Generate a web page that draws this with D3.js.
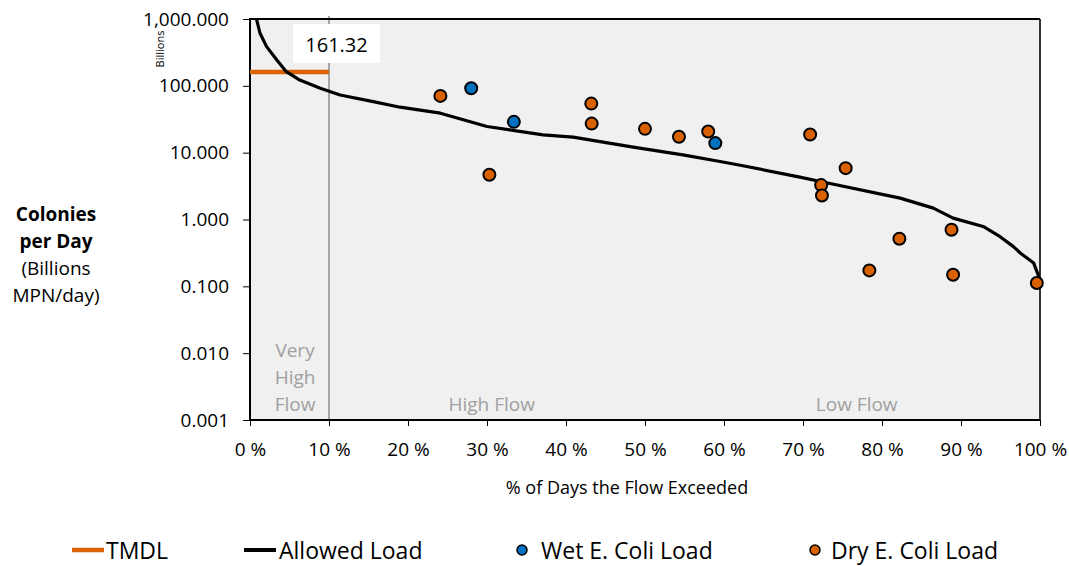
<!DOCTYPE html>
<html>
<head>
    <meta charset="UTF-8">
    <title>Load duration curve</title>
    <style>
      body { margin: 0; background: #fff; }
      svg { display: block; font-family: "Open Sans", sans-serif; }
    </style>
    <script src="https://cdn.jsdelivr.net/npm/d3@7/dist/d3.min.js"></script>
</head>
<body>
<svg id="chart" width="1069" height="566"></svg>
<script>
  // allowed load curve (% of days exceeded, billions MPN/day)
  var allowedPct  = [0.6, 0.85, 1.27, 2.1, 3.4, 4.6, 6.3, 8.9, 11.4, 15.6, 19.0, 24.1, 30.0, 37.1, 40.9, 48.5, 54.8, 59.5, 62.4, 69.6, 72.2, 82.3, 86.5, 89.0, 92.8, 94.9, 96.6, 97.5, 99.2, 100]
  var allowedLoad = [1300, 966, 611, 386, 244, 163, 122, 92, 73, 58, 47.9, 39, 24.6, 18.5, 17.1, 12.1, 9.29, 7.38, 6.36, 4.31, 3.71, 2.09, 1.48, 1.05, 0.787, 0.558, 0.396, 0.315, 0.223, 0.126]

  // sampled loads
  var wetPct  = [28.0, 33.4, 58.9]
  var wetLoad = [92.1, 28.9, 13.9]
  var dryPct  = [24.1, 30.3, 43.2, 43.25, 50.0, 54.3, 58.0, 70.9, 72.3, 72.4, 75.4, 78.4, 82.2, 88.8, 89.0, 99.6]
  var dryLoad = [70.7, 4.67, 54.2, 27.2, 22.7, 17.3, 20.7, 18.7, 3.27, 2.29, 5.87, 0.173, 0.515, 0.703, 0.149, 0.112]

  // TMDL for the very high flow zone
  var tmdlPct = [0, 10]
  var tmdlValue = 161.32

  var yTicks = [0.001, 0.01, 0.1, 1, 10, 100, 1000]
  var xTicks = [0, 10, 20, 30, 40, 50, 60, 70, 80, 90, 100]
  var zones = [
    { lines: ["Very", "High", "Flow"], pct: 5.7 },
    { lines: ["High Flow"], pct: 30.6 },
    { lines: ["Low Flow"], pct: 76.8 }
  ]
  var legendItems = ["TMDL", "Allowed Load", "Wet E. Coli Load", "Dry E. Coli Load"]

  var orange = "#d96100"
  var blue = "#0070c0"

  var plotL = 250, plotR = 1040, plotT = 19, plotB = 420
  var svg = d3.select("#chart")

  var x = d3.scaleLinear().domain([0, 100]).range([plotL, plotR])
  var y = d3.scaleLog().domain([0.001, 1000]).range([plotB, plotT])

  svg.append("rect").attr("x", plotL).attr("y", plotT)
    .attr("width", plotR - plotL).attr("height", plotB - plotT).attr("fill", "#f0f0f0")

  svg.append("defs").append("clipPath").attr("id", "plotClip")
    .append("rect").attr("x", plotL).attr("y", plotT).attr("width", plotR - plotL).attr("height", plotB - plotT)

  // 10 % boundary
  svg.append("line").attr("x1", x(10)).attr("x2", x(10)).attr("y1", plotT - 3).attr("y2", plotB)
    .attr("stroke", "#a6a6a6").attr("stroke-width", 2)

  // zone labels
  zones.forEach(function(z) {
    var n = z.lines.length
    z.lines.forEach(function(t, i) {
      svg.append("text").attr("x", x(z.pct)).attr("y", 404 - (n - 1 - i) * 27)
        .attr("text-anchor", "middle").attr("dominant-baseline", "central")
        .attr("fill", "#a0a0a0").style("font-size", "19px").text(t)
    })
  })

  // axes
  var yAxis = d3.axisLeft(y).tickValues(yTicks).tickSize(7).tickPadding(14)
    .tickFormat(d3.format(",.3f"))
  var gy = svg.append("g").attr("transform", "translate(" + plotL + ",0)").call(yAxis)
  gy.select(".domain").remove()
  gy.selectAll("text").style("font-size", "19px").style("font-family", "Open Sans").attr("fill", "#000")

  var xAxis = d3.axisBottom(x).tickValues(xTicks).tickSize(6).tickPadding(17)
    .tickFormat(function(d) { return d + " %" })
  var gx = svg.append("g").attr("transform", "translate(0," + plotB + ")").call(xAxis)
  gx.select(".domain").remove()
  gx.selectAll("text").style("font-size", "19px").style("font-family", "Open Sans").attr("fill", "#000")

  // frame
  svg.append("line").attr("x1", plotL).attr("x2", plotR).attr("y1", plotT).attr("y2", plotT).attr("stroke", "#000").attr("stroke-width", 2)
  svg.append("line").attr("x1", plotR).attr("x2", plotR).attr("y1", plotT).attr("y2", plotB).attr("stroke", "#333").attr("stroke-width", 2)
  svg.append("line").attr("x1", plotL).attr("x2", plotL).attr("y1", plotT - 1).attr("y2", plotB + 1).attr("stroke", "#000").attr("stroke-width", 2)
  svg.append("line").attr("x1", plotL).attr("x2", plotR).attr("y1", plotB).attr("y2", plotB).attr("stroke", "#000").attr("stroke-width", 2)

  // TMDL
  svg.append("line").attr("x1", x(tmdlPct[0])).attr("x2", x(tmdlPct[1]))
    .attr("y1", y(tmdlValue)).attr("y2", y(tmdlValue))
    .attr("stroke", orange).attr("stroke-width", 4.5)

  // allowed load
  var line = d3.line()
    .x(function(d, i) { return x(allowedPct[i]) })
    .y(function(d) { return y(d) })
  svg.append("path").attr("clip-path", "url(#plotClip)")
    .attr("d", line(allowedLoad)).attr("fill", "none")
    .attr("stroke", "#000").attr("stroke-width", 3.2).attr("stroke-linejoin", "round")

  // points
  function dots(pcts, loads, color) {
    svg.append("g").selectAll("circle").data(loads).enter().append("circle")
      .attr("cx", function(d, i) { return x(pcts[i]) })
      .attr("cy", function(d) { return y(d) })
      .attr("r", 6).attr("fill", color).attr("stroke", "#000").attr("stroke-width", 2)
  }
  dots(dryPct, dryLoad, orange)
  dots(wetPct, wetLoad, blue)

  // TMDL value label
  svg.append("rect").attr("x", 293).attr("y", 24).attr("width", 87).attr("height", 39).attr("fill", "#fff")
  svg.append("text").attr("x", 336.5).attr("y", 44).attr("text-anchor", "middle")
    .attr("dominant-baseline", "central").style("font-size", "20px").text(d3.format(".2f")(tmdlValue))

  // "Billions" unit
  svg.append("text").attr("transform", "translate(164,49) rotate(-90)")
    .attr("text-anchor", "middle").style("font-size", "11px").text("Billions")

  // y title
  var yTitle = [["Colonies", true], ["per Day", true], ["(Billions", false], ["MPN/day)", false]]
  yTitle.forEach(function(t, i) {
    svg.append("text").attr("x", 56).attr("y", 214 + i * 27)
      .attr("text-anchor", "middle").attr("dominant-baseline", "central")
      .style("font-size", "19px").style("font-weight", t[1] ? "bold" : "normal").text(t[0])
  })

  // x title
  svg.append("text").attr("x", 627).attr("y", 487).attr("text-anchor", "middle")
    .attr("dominant-baseline", "central").style("font-size", "18px").text("% of Days the Flow Exceeded")

  // legend
  var ly = 550
  var lg = svg.append("g")
  lg.append("line").attr("x1", 72).attr("x2", 104).attr("y1", ly).attr("y2", ly).attr("stroke", orange).attr("stroke-width", 4.5)
  lg.append("line").attr("x1", 244).attr("x2", 276).attr("y1", ly).attr("y2", ly).attr("stroke", "#000").attr("stroke-width", 4)
  lg.append("circle").attr("cx", 522).attr("cy", ly).attr("r", 5).attr("fill", blue).attr("stroke", "#000").attr("stroke-width", 1.5)
  lg.append("circle").attr("cx", 815).attr("cy", ly).attr("r", 5).attr("fill", orange).attr("stroke", "#000").attr("stroke-width", 1.5)
  var lx = [106, 279, 541, 831]
  legendItems.forEach(function(t, i) {
    lg.append("text").attr("x", lx[i]).attr("y", ly).attr("dominant-baseline", "central")
      .style("font-size", "23px").text(t)
  })
</script>
</body>
</html>
